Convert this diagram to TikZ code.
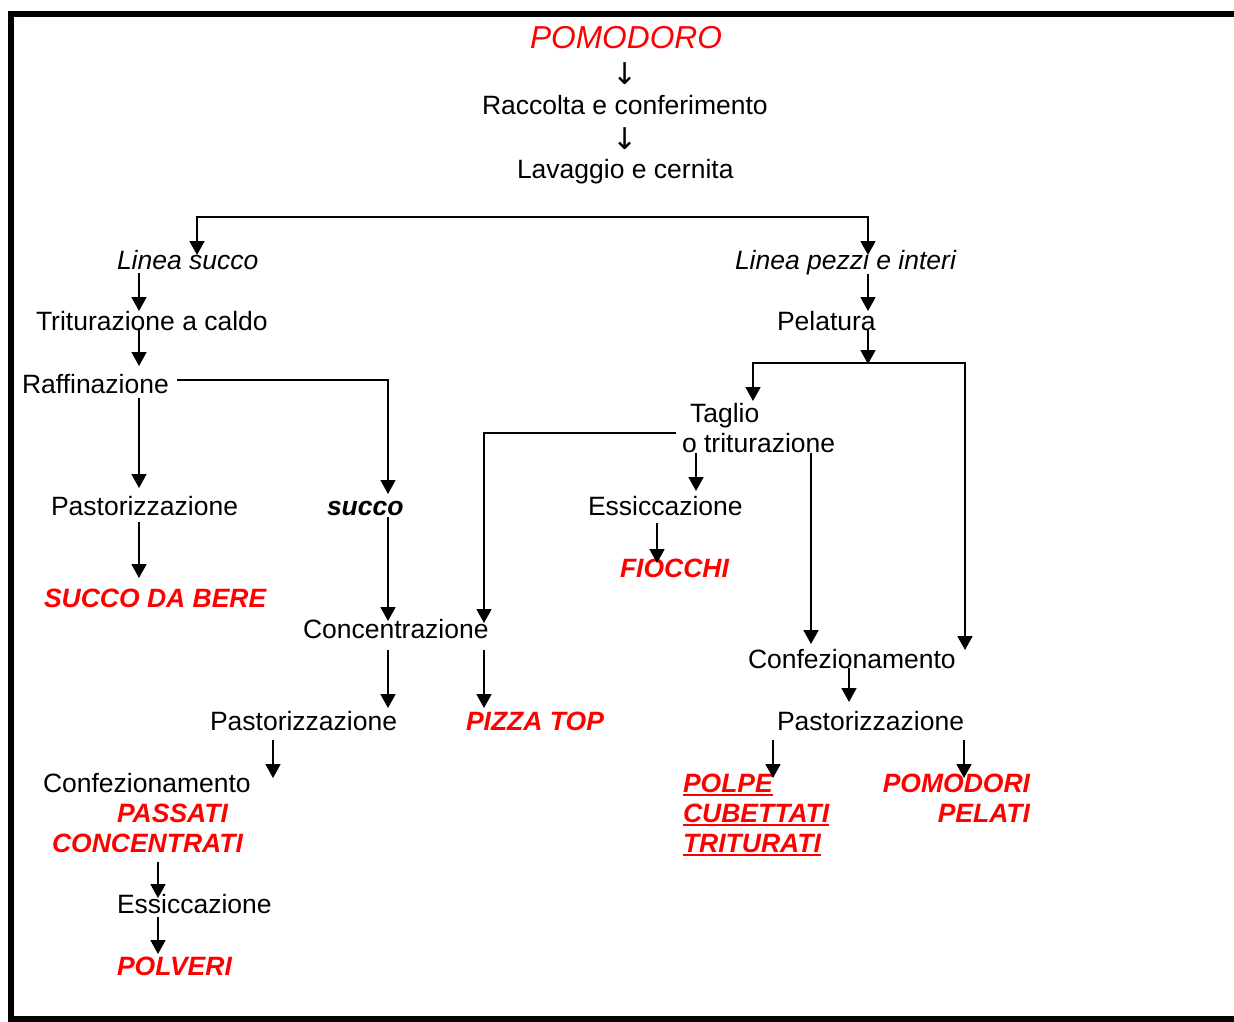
\documentclass[tikz,border=0pt]{standalone}
\usepackage{fontspec}
\setmainfont{Liberation Sans}
\newfontfamily\arrowfont{DejaVu Sans}
\usetikzlibrary{arrows.meta}
\definecolor{rd}{RGB}{255,0,0}
\begin{document}
\begin{tikzpicture}[x=1pt,y=-1pt,
  every node/.style={inner sep=0pt,outer sep=0pt,font=\fontsize{26.5}{30}\selectfont},
  txt/.style={anchor=base west},
  itx/.style={anchor=base west,font=\fontsize{26.5}{30}\selectfont\itshape},
  prod/.style={anchor=base west,text=rd,font=\fontsize{26.5}{30}\selectfont\bfseries\itshape},
  darr/.style={anchor=base,font=\arrowfont\fontsize{30}{34}\selectfont},
  ln/.style={line width=1.8pt},
  arr/.style={line width=1.8pt,-{Triangle[width=15pt,length=14pt]}},
  dblarr/.style={line width=1.8pt,{Triangle[width=15pt,length=14pt]}-{Triangle[width=15pt,length=14pt]}},
  uline/.style={rd,line width=2.6pt}]
\useasboundingbox (0,0) rectangle (1234,1021);
\clip (0,0) rectangle (1234,1021);
\fill[white] (0,0) rectangle (1234,1021);
% frame
\draw[line width=6pt] (1260,14) -- (11,14) -- (11,1019) -- (1260,1019);

% top column
\node[anchor=base west,text=rd,font=\fontsize{31.7}{36}\selectfont\itshape] (pomodoro) at (530,48) {POMODORO};
\node[darr] (d1) at (625,84) {↓};
\node[txt] (raccolta) at (482,114) {Raccolta e conferimento};
\node[darr] (d2) at (625,149) {↓};
\node[txt] (lavaggio) at (517,178) {Lavaggio e cernita};

% left branch
\node[itx] (lsucco) at (117,269) {Linea succo};
\node[txt] (trit) at (36,330) {Triturazione a caldo};
\node[txt] (raff) at (22,393) {Raffinazione};
\node[txt] (pastL) at (51,515) {Pastorizzazione};
\node[anchor=base west,font=\fontsize{26.5}{30}\selectfont\bfseries\itshape] (succo) at (327,515) {succo};
\node[prod] (sdb) at (44,607) {SUCCO DA BERE};
\node[txt] (conc) at (303,638) {Concentrazione};
\node[txt] (pastM) at (210,730) {Pastorizzazione};
\node[prod] (pizza) at (466,730) {PIZZA TOP};
\node[txt] (confL) at (43,792) {Confezionamento};
\node[prod] (passati) at (117,822) {PASSATI};
\node[prod] (concentrati) at (52,852) {CONCENTRATI};
\node[txt] (essL) at (117,913) {Essiccazione};
\node[prod] (polveri) at (117,975) {POLVERI};

% right branch
\node[itx] (lpezzi) at (735,269) {Linea pezzi e interi};
\node[txt] (pelatura) at (777,330) {Pelatura};
\node[txt] (taglio) at (690,422) {Taglio};
\node[txt] (otrit) at (682,452) {o triturazione};
\node[txt] (essR) at (588,515) {Essiccazione};
\node[prod] (fiocchi) at (620,577) {FIOCCHI};
\node[txt] (confR) at (748,668) {Confezionamento};
\node[txt] (pastR) at (777,730) {Pastorizzazione};
\node[prod] (polpe) at (683,792) {POLPE};
\node[prod] (cubettati) at (683,822) {CUBETTATI};
\node[prod] (triturati) at (683,852) {TRITURATI};
\node[prod,anchor=base east] (pomodori) at (1030,792) {POMODORI};
\node[prod,anchor=base east] (pelati) at (1030,822) {PELATI};

% underlines
\foreach \n in {polpe,cubettati,triturati}
  \draw[uline] ([yshift=-3pt]\n.base west) -- ([yshift=-3pt]\n.base east);

% connector points
\coordinate (sL) at (197,255);
\coordinate (sR) at (868,255);
\coordinate (a2s) at (139,273); \coordinate (a2e) at (139,311);
\coordinate (a3s) at (139,328); \coordinate (a3e) at (139,366);
\coordinate (a4s) at (139,398); \coordinate (a4e) at (139,488);
\coordinate (a5s) at (177,380); \coordinate (a5e) at (388,494);
\coordinate (a6s) at (388,517); \coordinate (a6e) at (388,621);
\coordinate (a7s) at (139,522); \coordinate (a7e) at (139,578);
\coordinate (a8s) at (388,650); \coordinate (a8e) at (388,708);
\coordinate (a9s) at (676,433); \coordinate (a9e) at (484,623);
\coordinate (a10s) at (484,650); \coordinate (a10e) at (484,708);
\coordinate (a11s) at (273,740); \coordinate (a11e) at (273,778);
\coordinate (a12s) at (158,862); \coordinate (a12e) at (158,898);
\coordinate (a13s) at (158,917); \coordinate (a13e) at (158,954);
\coordinate (a14s) at (868,274); \coordinate (a14e) at (868,311);
\coordinate (a15s) at (868,330); \coordinate (a15e) at (868,364);
\coordinate (tL) at (753,401); \coordinate (tR) at (965,650);
\coordinate (a17s) at (696,453); \coordinate (a17e) at (696,491);
\coordinate (a18s) at (811,453); \coordinate (a18e) at (811,644);
\coordinate (a19s) at (657,523); \coordinate (a19e) at (657,563);
\coordinate (a20s) at (849,668); \coordinate (a20e) at (849,702);
\coordinate (a21s) at (773,740); \coordinate (a21e) at (773,778);
\coordinate (a22s) at (964,740); \coordinate (a22e) at (964,778);

% connectors
\draw[dblarr] (sL) -- (197,217) -- (868,217) -- (sR);
\draw[arr] (a2s) -- (a2e);
\draw[arr] (a3s) -- (a3e);
\draw[arr] (a4s) -- (a4e);
\draw[arr] (a5s) -| (a5e);
\draw[arr] (a6s) -- (a6e);
\draw[arr] (a7s) -- (a7e);
\draw[arr] (a8s) -- (a8e);
\draw[arr] (a9s) -| (a9e);
\draw[arr] (a10s) -- (a10e);
\draw[arr] (a11s) -- (a11e);
\draw[arr] (a12s) -- (a12e);
\draw[arr] (a13s) -- (a13e);
\draw[arr] (a14s) -- (a14e);
\draw[arr] (a15s) -- (a15e);
\draw[dblarr] (tL) -- (753,363) -- (965,363) -- (tR);
\draw[arr] (a17s) -- (a17e);
\draw[arr] (a18s) -- (a18e);
\draw[arr] (a19s) -- (a19e);
\draw[arr] (a20s) -- (a20e);
\draw[arr] (a21s) -- (a21e);
\draw[arr] (a22s) -- (a22e);
\end{tikzpicture}
\end{document}
